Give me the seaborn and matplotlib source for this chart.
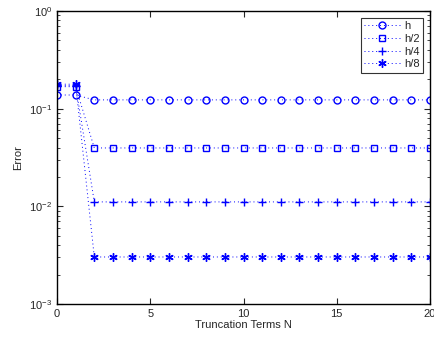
import numpy as np
import pandas as pd
import matplotlib
matplotlib.use("Agg")
import matplotlib.pyplot as plt
import seaborn as sns
from matplotlib.ticker import LogLocator, NullFormatter

sns.set_style("ticks")
plt.rcParams['font.family'] = ['Liberation Sans', 'DejaVu Sans']
plt.rcParams['mathtext.fontset'] = 'custom'
plt.rcParams['mathtext.rm'] = 'Liberation Sans'

N = list(range(0, 21))
err_h = [0.138, 0.138] + [0.123] * 19
err_h2 = [0.168, 0.168] + [0.0396] * 19
err_h4 = [0.172, 0.172] + [0.0111] * 19
err_h8 = [0.178, 0.178] + [0.00303] * 19
labels = ["h", "h/2", "h/4", "h/8"]
markers = ["o", "s", "+", (6, 2, 0)]
sizes = [5, 4.5, 6, 6]

fig = plt.figure(figsize=(4.34, 3.38), dpi=100)
ax = fig.add_axes([57/434, 34/338, 373/434, 293/338])

for y, lab, m, ms in zip([err_h, err_h2, err_h4, err_h8], labels, markers, sizes):
    filled = not (isinstance(m, str) and m in 'os')
    sns.lineplot(x=N, y=y, ax=ax, label=lab, marker=m, linestyle=(0, (1, 3)), color='#0000ff',
                 linewidth=0.7, markersize=ms,
                 markerfacecolor='#0000ff' if filled else 'none',
                 markeredgecolor='#0000ff', markeredgewidth=1.0)

ax.set_yscale('log')
ax.set_ylim(1e-3, 1)
ax.set_xlim(0, 20)
ax.set_xticks([0, 5, 10, 15, 20])
ax.yaxis.set_minor_locator(LogLocator(base=10, subs=np.arange(2, 10)))
ax.yaxis.set_minor_formatter(NullFormatter())
ax.tick_params(which='both', direction='in', top=True, right=True, labelsize=8)
ax.tick_params(which='major', length=4, width=0.8)
ax.tick_params(which='minor', length=2, width=0.6)
for s in ax.spines.values():
    s.set_linewidth(1.0)
    s.set_color('black')
ax.set_xlabel("Truncation Terms N", fontsize=8, labelpad=1)
ax.set_ylabel("Error", fontsize=8, labelpad=4)
leg = ax.legend(loc='upper right', fontsize=8, frameon=True, fancybox=False,
                edgecolor='black', handlelength=3.2, borderpad=0.3, labelspacing=0.25,
                handletextpad=0.4, borderaxespad=0.6)
leg.get_frame().set_linewidth(0.8)
fig.savefig("out.png", dpi=100, facecolor='white')
